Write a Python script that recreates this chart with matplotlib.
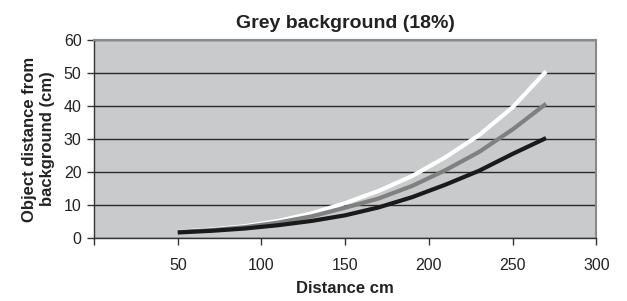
import matplotlib
matplotlib.use("Agg")
import matplotlib.pyplot as plt

plt.rcParams["font.family"] = ["Liberation Sans", "DejaVu Sans"]

distance = [50, 70, 90, 110, 130, 150, 170, 190, 210, 230, 250, 270]
white_vals = [1.9, 2.6, 3.6, 5.2, 7.5, 10.6, 14.3, 18.8, 24.5, 31.2, 39.6, 50.5]
grey_vals = [1.8, 2.4, 3.3, 4.7, 6.6, 9.2, 12.0, 15.8, 20.6, 26.1, 32.9, 40.7]
black_vals = [1.7, 2.2, 2.9, 3.9, 5.2, 6.9, 9.3, 12.4, 16.2, 20.4, 25.5, 30.3]
xticks = [0, 50, 100, 150, 200, 250, 300]
xticklabels = ["", "50", "100", "150", "200", "250", "300"]
yticks = [0, 10, 20, 30, 40, 50, 60]

fig = plt.figure(figsize=(6.27, 3.01), dpi=100)
ax = fig.add_axes([0.150, 0.209, 0.801, 0.658])
ax.set_facecolor("#c9cacc")

ax.plot(distance, white_vals, color="white", lw=3, solid_capstyle="butt", zorder=3)
ax.plot(distance, grey_vals, color="#808080", lw=3, solid_capstyle="butt", zorder=4)
ax.plot(distance, black_vals, color="#1a1a1a", lw=3, solid_capstyle="butt", zorder=5)

ax.set_xlim(0, 300)
ax.set_ylim(0, 60)
ax.set_xticks(xticks)
ax.set_xticklabels(xticklabels)
ax.set_yticks(yticks)
ax.yaxis.grid(True, color="#2a2a2a", lw=1.0)
ax.set_axisbelow(True)

for s in ["top", "right"]:
    ax.spines[s].set_color("#8a8a8a")
    ax.spines[s].set_linewidth(1.5)
for s in ["left", "bottom"]:
    ax.spines[s].set_color("#333333")
    ax.spines[s].set_linewidth(1.0)

ax.tick_params(axis="both", direction="out", length=5, width=1, color="#333333",
               labelsize=11.5, labelcolor="#222222")
ax.tick_params(axis="x", pad=9)
ax.tick_params(axis="y", pad=4)

ax.set_title("Grey background (18%)", fontsize=14, fontweight="bold", color="#222222", pad=9)
ax.set_xlabel("Distance cm", fontsize=12, fontweight="bold", color="#222222", labelpad=6)
ax.set_ylabel("Object distance from\nbackground (cm)", fontsize=12, fontweight="bold",
              color="#222222", labelpad=6, linespacing=1.3)

fig.savefig("out.png", dpi=100)
